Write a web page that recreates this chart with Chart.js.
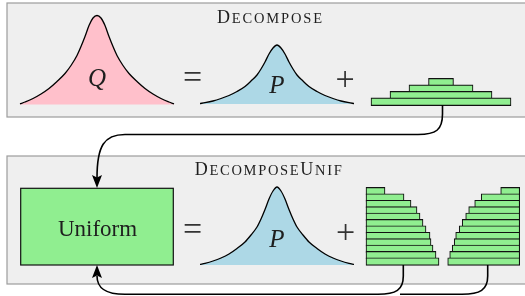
<!DOCTYPE html>
<html>
<head>
<meta charset="utf-8">
<script src="https://cdn.jsdelivr.net/npm/chart.js@4.4.0/dist/chart.umd.min.js"></script>
<style>
  html, body { margin: 0; padding: 0; background: #fff; }
  canvas { display: block; }
</style>
</head>
<body>
<canvas id="diagram" width="525" height="296"></canvas>
<script>
// curve shapes: height above the baseline at each offset from the peak (one side, mirrored)
const curveOffsets = [0, 4, 8, 12, 16, 20, 26, 32, 40, 48, 56, 64, 72, 77];
const qHeights     = [89, 86.5, 79, 68, 58, 49, 39, 31, 23, 16, 10.5, 6, 2.5, 0.6];
const pHeights     = [59, 56, 50, 42, 35, 29, 23, 17.5, 12.5, 8.5, 5.5, 3, 1.3, 0.5];
const pUnifHeights = [78, 74, 66, 55.5, 46, 38, 30, 23, 16.5, 11, 7, 4, 1.7, 0.6];

// bar widths, top row first
const pyramidWidths    = [25, 64, 102, 140];
const leftStackWidths  = [19, 38, 45, 51, 54, 57, 60, 64, 65, 67, 70, 73];
const rightStackWidths = [19, 38.5, 45, 51, 54, 57.5, 60.5, 64, 65.5, 67.5, 70, 72];

const titles = ["Decompose", "DecomposeUnif"];
const symbols = ["Q", "P", "P"];
const boxLabel = "Uniform";

// ---- layout (value space == pixel space, 525 x 296) ----
const W = 525, H = 296;
const GREEN = "#90ee90";
const INK = "#1e1e1e";

function mirror(heights, cx, base) {
  const pts = [];
  for (let i = curveOffsets.length - 1; i > 0; i--) pts.push({ x: cx - curveOffsets[i], y: base - heights[i] });
  for (let i = 0; i < curveOffsets.length; i++) pts.push({ x: cx + curveOffsets[i], y: base - heights[i] });
  return pts;
}

function curve(heights, cx, base, color) {
  return {
    type: "line",
    data: mirror(heights, cx, base),
    borderColor: "#000",
    borderWidth: 1.3,
    backgroundColor: color,
    fill: { value: base },
    pointRadius: 0,
    cubicInterpolationMode: "monotone",
  };
}

function bars(widths, top, rowH, span) {
  return {
    type: "bar",
    indexAxis: "y",
    data: widths.map((w, i) => ({ y: top + (i + 0.5) * rowH, x: span(w) })),
    backgroundColor: GREEN,
    borderColor: "#111",
    borderWidth: 1.1,
    borderSkipped: false,
    barThickness: rowH + 1.1,
    grouped: false,
  };
}

const datasets = [
  curve(qHeights, 97, 104.5, "#ffc0cb"),
  curve(pHeights, 277, 104, "#add8e6"),
  curve(pUnifHeights, 277, 265, "#add8e6"),
  bars(pyramidWidths, 79, 6.5, w => [441 - w / 2, 441 + w / 2]),
  bars(leftStackWidths, 188, 6.4, w => [366, 366 + w]),
  bars(rightStackWidths, 188, 6.4, w => [519.7 - w, 519.7]),
];

const links = [
  { path: [["M", 442.5, 105], ["L", 442.5, 114], ["C", 442.5, 130, 436, 134.5, 418, 134.5], ["L", 125, 134.5], ["C", 104, 134.5, 97, 146, 97, 178]], tip: [97, 188], dir: 1 },
  { path: [["M", 403.3, 265], ["L", 403.3, 276], ["C", 403.3, 290, 396, 294.3, 378, 294.3], ["L", 125, 294.3], ["C", 105, 294.3, 97, 288, 97, 276]], tip: [97, 265], dir: -1 },
  { path: [["M", 487.7, 265], ["L", 487.7, 276], ["C", 487.7, 290, 480, 294.3, 462, 294.3], ["L", 400, 294.3]] },
];

function smallCaps(ctx, text, cx, by, big, small, width) {
  const parts = [...text].map(ch => ({ ch: ch.toUpperCase(), size: ch === ch.toUpperCase() ? big : small }));
  parts.forEach(p => {
    ctx.font = p.size + 'px "Liberation Serif"';
    p.w = ctx.measureText(p.ch).width;
  });
  const natural = parts.reduce((s, p) => s + p.w, 0);
  const gap = (width - natural) / (parts.length - 1);
  let x = cx - width / 2;
  ctx.textAlign = "left";
  parts.forEach(p => {
    ctx.font = p.size + 'px "Liberation Serif"';
    ctx.fillText(p.ch, x, by);
    x += p.w + gap;
  });
}

const diagramPlugin = {
  id: "diagram",
  beforeDraw(chart) {
    const { ctx, scales: { x, y } } = chart;
    ctx.save();
    ctx.fillStyle = "#efefef";
    ctx.strokeStyle = "#9c9c9c";
    ctx.lineWidth = 1.2;
    [[3, 117], [156, 284]].forEach(([y0, y1]) => {
      const px = x.getPixelForValue(7), py = y.getPixelForValue(y0);
      const w = x.getPixelForValue(W + 10) - px, h = y.getPixelForValue(y1) - py;
      ctx.fillRect(px, py, w, h);
      ctx.strokeRect(px, py, w, h);
    });
    ctx.restore();
  },
  afterDatasetsDraw(chart) {
    const { ctx, scales: { x, y } } = chart;
    const X = v => x.getPixelForValue(v), Y = v => y.getPixelForValue(v);
    ctx.save();

    // Uniform box
    ctx.fillStyle = GREEN;
    ctx.strokeStyle = "#111";
    ctx.lineWidth = 1.2;
    ctx.fillRect(X(20.7), Y(188.3), X(173.3) - X(20.7), Y(265) - Y(188.3));
    ctx.strokeRect(X(20.7), Y(188.3), X(173.3) - X(20.7), Y(265) - Y(188.3));

    // connectors
    ctx.strokeStyle = "#000";
    ctx.fillStyle = "#000";
    ctx.lineWidth = 1.6;
    links.forEach(link => {
      ctx.beginPath();
      link.path.forEach(s => {
        if (s[0] === "M") ctx.moveTo(X(s[1]), Y(s[2]));
        else if (s[0] === "L") ctx.lineTo(X(s[1]), Y(s[2]));
        else ctx.bezierCurveTo(X(s[1]), Y(s[2]), X(s[3]), Y(s[4]), X(s[5]), Y(s[6]));
      });
      ctx.stroke();
      if (link.tip) {
        const [tx, ty] = link.tip, d = link.dir;
        ctx.beginPath();
        ctx.moveTo(X(tx), Y(ty));
        ctx.lineTo(X(tx - 5), Y(ty - d * 13));
        ctx.lineTo(X(tx), Y(ty - d * 10.5));
        ctx.lineTo(X(tx + 5), Y(ty - d * 13));
        ctx.closePath();
        ctx.fill();
      }
    });

    // texts
    ctx.fillStyle = INK;
    ctx.textBaseline = "alphabetic";
    smallCaps(ctx, titles[0], X(269.5), Y(22.5), 18, 14.5, 105);
    smallCaps(ctx, titles[1], X(268.3), Y(175), 18, 14.5, 147);

    ctx.textAlign = "center";
    ctx.font = 'italic 25px "Liberation Serif"';
    ctx.fillText(symbols[0], X(97), Y(86));
    ctx.fillText(symbols[1], X(277), Y(93));
    ctx.fillText(symbols[2], X(277), Y(246.5));

    ctx.font = '34px "Liberation Serif"';
    ctx.fillStyle = "#333";
    ctx.fillText("=", X(192.5), Y(88));
    ctx.fillText("+", X(345), Y(90));
    ctx.fillText("=", X(192.5), Y(240));
    ctx.fillText("+", X(345.5), Y(243));

    ctx.fillStyle = INK;
    ctx.font = '23px "Liberation Serif"';
    ctx.fillText(boxLabel, X(97.5), Y(235.7));
    ctx.restore();
  },
};

new Chart(document.getElementById("diagram"), {
  type: "scatter",
  data: { datasets },
  options: {
    responsive: false,
    animation: false,
    events: [],
    layout: { padding: 0 },
    scales: {
      x: { type: "linear", min: 0, max: W, display: false, offset: false },
      y: { type: "linear", min: 0, max: H, reverse: true, display: false, offset: false },
    },
    plugins: {
      legend: { display: false },
      tooltip: { enabled: false },
    },
  },
  plugins: [diagramPlugin],
});
</script>
</body>
</html>
